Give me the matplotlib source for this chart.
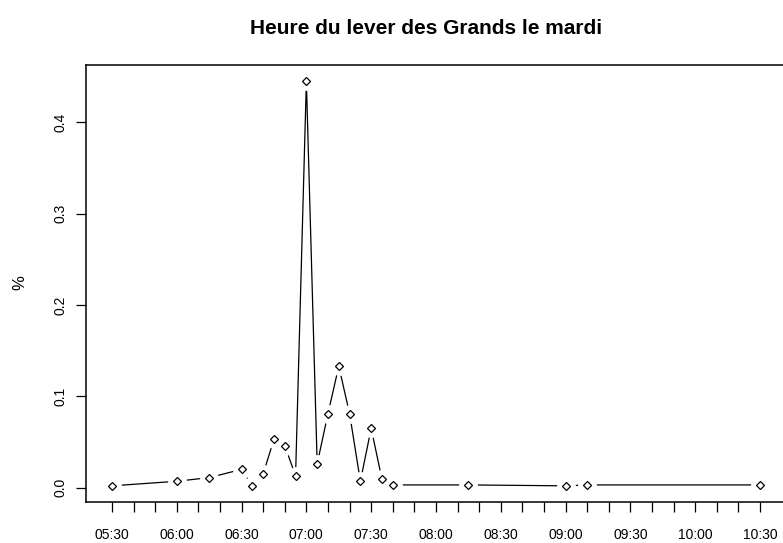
import matplotlib
matplotlib.use("Agg")
import matplotlib.pyplot as plt

plt.rcParams['font.family'] = ['Liberation Sans', 'DejaVu Sans']

# heure du lever (mardi) et proportion
heures = ["05:30", "06:00", "06:15", "06:30", "06:35", "06:40", "06:45", "06:50",
          "06:55", "07:00", "07:05", "07:10", "07:15", "07:20", "07:25", "07:30",
          "07:35", "07:40", "08:15", "09:00", "09:10", "10:30"]
proportions = [0.002, 0.007, 0.011, 0.020, 0.002, 0.015, 0.053, 0.046,
               0.013, 0.445, 0.026, 0.081, 0.133, 0.081, 0.007, 0.065,
               0.009, 0.003, 0.003, 0.002, 0.003, 0.003]

y_ticks = [0.0, 0.1, 0.2, 0.3, 0.4]
y_labels = ["0.0", "0.1", "0.2", "0.3", "0.4"]


def en_minutes(h):
    hh, mm = h.split(":")
    return int(hh) * 60 + int(mm)


x = [en_minutes(h) for h in heures]
debut = en_minutes("05:30")
fin = en_minutes("10:30")

W, H = 783, 543
fig = plt.figure(figsize=(W / 100, H / 100), dpi=100)
ax = fig.add_axes([86 / W, 1 - 502 / H, (786 - 86) / W, (502 - 65) / H])

# type="b" de R : ligne interrompue autour des points
ax.plot(x, proportions, color='black', lw=0.9, zorder=2)
ax.plot(x, proportions, ls='none', marker='o', ms=13, mfc='white',
        mec='white', mew=0.5, zorder=3)
ax.plot(x, proportions, ls='none', marker='D', ms=4.4, mfc='white',
        mec='black', mew=0.9, zorder=4)

ax.set_xlim(debut - 12, fin + 12)
ax.set_ylim(-0.0157, 0.4627)

ticks_x = list(range(debut, fin + 1, 10))
labels_x = ["%02d:%02d" % (t // 60, t % 60) if (t - debut) % 30 == 0 else ""
            for t in ticks_x]
ax.set_xticks(ticks_x)
ax.set_xticklabels(labels_x)
ax.set_yticks(y_ticks)
ax.set_yticklabels(y_labels, rotation=90, va='center')

ax.tick_params(axis='both', length=7.5, width=0.9, labelsize=10, color='black')
ax.tick_params(axis='x', pad=11)
ax.tick_params(axis='y', pad=6)

for s in ax.spines.values():
    s.set_linewidth(1.1)

fig.text(426 / W, 1 - 28 / H, "Heure du lever des Grands le mardi",
         ha='center', va='center', fontsize=15, fontweight='bold')
fig.text(20 / W, 1 - 283 / H, "%", ha='center', va='center', rotation=90,
         fontsize=12)

fig.savefig("out.png", dpi=100)
